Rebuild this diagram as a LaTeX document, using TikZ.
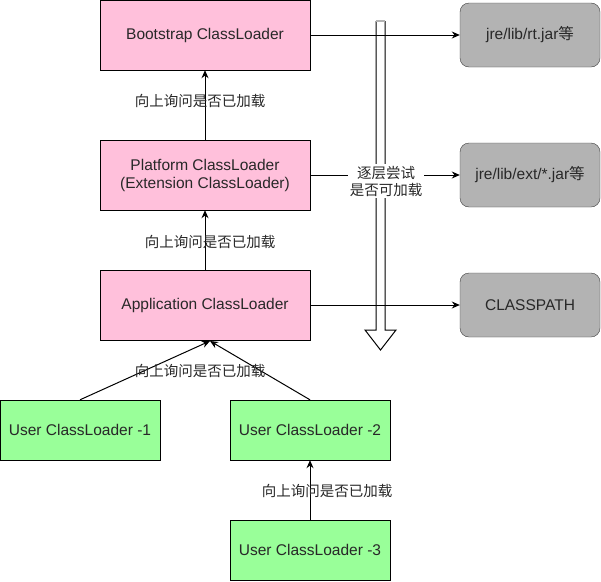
\documentclass[tikz,border=0pt]{standalone}
\usepackage{fontspec}
\setmainfont{Liberation Sans}
\newfontfamily\cjk{Noto Sans CJK SC}
\usetikzlibrary{arrows.meta}
\definecolor{loaderpink}{RGB}{255,192,219}
\definecolor{usergreen}{RGB}{153,255,153}
\definecolor{pathgray}{RGB}{179,179,179}
\definecolor{pathline}{RGB}{60,60,60}
\definecolor{textgray}{RGB}{40,40,40}
\tikzset{
  loader/.style={draw=black,fill=loaderpink,minimum width=210pt,minimum height=70pt,inner sep=0pt,align=center,text=textgray,font=\fontsize{15.5}{18}\selectfont},
  userbox/.style={draw=black,fill=usergreen,minimum width=160pt,minimum height=60pt,inner sep=0pt,text=textgray,font=\fontsize{15.5}{18}\selectfont},
  pathbox/.style={draw=pathline,fill=pathgray,rounded corners=9pt,minimum width=140pt,minimum height=64pt,inner sep=0pt,text=textgray,font=\fontsize{15.5}{18}\selectfont},
  ask/.style={text=textgray,inner sep=0pt,font=\cjk\fontsize{14.5}{17}\selectfont},
  up/.style={-{Stealth[length=8pt,width=7pt]},line width=1pt}
}
\begin{document}
\begin{tikzpicture}[x=1pt,y=-1pt]
      \useasboundingbox (0,0) rectangle (601,581);
      \draw[fill=white,line width=1pt] (376,21) -- (376,330) -- (365,330) -- (380.5,350) -- (396,330) -- (385,330) -- (385,21);
      \draw[pathgray,line width=1.5pt] (376,21) -- (385,21);
      \node[loader] (boot) at (205,35) {Bootstrap ClassLoader};
      \node[loader] (plat) at (205,175) {Platform ClassLoader\\(Extension ClassLoader)};
      \node[loader] (app) at (205,305) {Application ClassLoader};
      \node[userbox] (user1) at (80,430) {User ClassLoader -1};
      \node[userbox] (user2) at (310,430) {User ClassLoader -2};
      \node[userbox] (user3) at (310,550) {User ClassLoader -3};
      \node[pathbox] (rt) at (530,35) {jre/lib/rt.jar{\cjk 等}};
      \node[pathbox] (ext) at (530,175) {jre/lib/ext/*.jar{\cjk 等}};
      \node[pathbox] (cp) at (530,305) {CLASSPATH};
      \coordinate (meet) at (210,341);
      \draw[up] (plat) -- (boot);
      \draw[up] (app) -- (plat);
      \draw[up] (user1.north) -- (meet);
      \draw[up] (user2.north) -- (meet);
      \draw[up] (user3) -- (user2);
      \draw[up] (boot) -- (rt);
      \draw[up] (plat) -- (ext);
      \draw[up] (app) -- (cp);
      \node[ask] (ask1) at (200,101) {向上询问是否已加载};
      \node[ask] (ask2) at (210,242) {向上询问是否已加载};
      \node[ask] (ask3) at (200,371) {向上询问是否已加载};
      \node[ask] (ask4) at (327,491) {向上询问是否已加载};
      \node[ask,fill=white,align=center,inner sep=2pt] (try) at (386,181) {逐层尝试\\是否可加载};
\end{tikzpicture}
\end{document}
